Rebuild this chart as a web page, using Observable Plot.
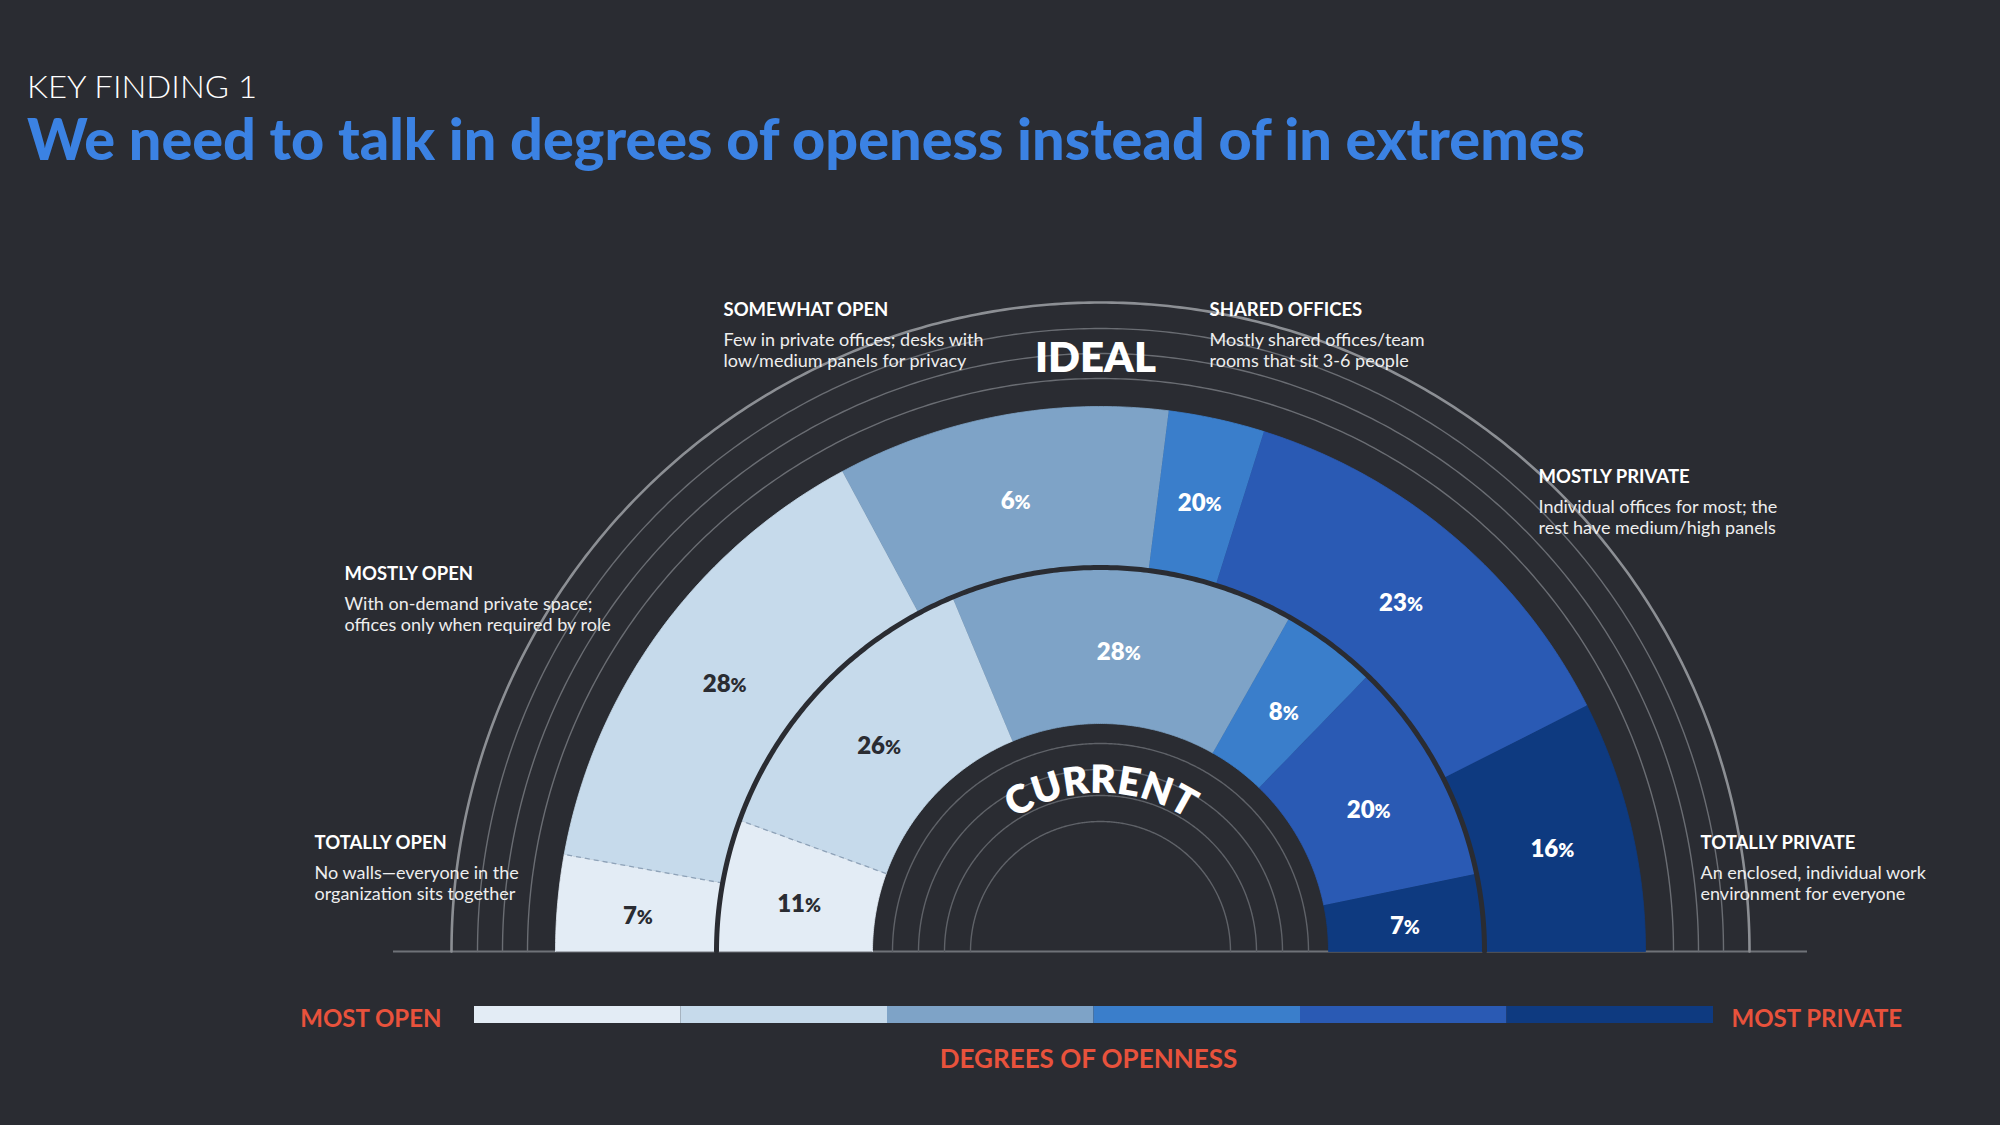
<!DOCTYPE html>
<html>
<head>
<meta charset="utf-8">
<script src="https://cdn.jsdelivr.net/npm/d3@7"></script>
<script src="https://cdn.jsdelivr.net/npm/@observablehq/plot@0.6"></script>
<style>
  html, body { margin: 0; padding: 0; background: #2a2c32; width: 2000px; height: 1125px; overflow: hidden; }
  #header { position: relative; width: 2000px; height: 180px; }
  .t { position: absolute; left: 27px; white-space: nowrap; line-height: 1; transform-origin: 0 0; font-family: Lato, "Open Sans", sans-serif; }
  #kicker { top: 70px; font-size: 32px; font-weight: 300; color: #ffffff; }
  #title { top: 110px; font-size: 57px; font-weight: 900; color: #3b82e3; }
  #chart svg { display: block; }
</style>
</head>
<body>
<div id="header">
  <div class="t" id="kicker">KEY FINDING 1</div>
  <div class="t" id="title">We need to talk in degrees of openess instead of in extremes</div>
</div>
<div id="chart"></div>
<script>
// ---------------- data ----------------
const categories = ["Totally open", "Mostly open", "Somewhat open", "Shared offices", "Mostly private", "Totally private"];
const colors = ["#e3ecf5", "#c6daeb", "#7ea3c7", "#3a7ecb", "#2a5ab4", "#0e3a80"];
// angular shares (percent of the half circle) as drawn
const idealShare = [5.7, 28.6, 19.7, 5.7, 25.4, 14.9];
const currentShare = [11.1, 26.3, 29.0, 8.1, 19.0, 6.5];
// printed labels
const idealLabels = ["7%", "28%", "6%", "20%", "23%", "16%"];
const currentLabels = ["11%", "26%", "28%", "8%", "20%", "7%"];
const headings = ["TOTALLY OPEN", "MOSTLY OPEN", "SOMEWHAT OPEN", "SHARED OFFICES", "MOSTLY PRIVATE", "TOTALLY PRIVATE"];
const descriptions = [
  ["No walls\u2014everyone in the", "organization sits together"],
  ["With on-demand private space;", "offices only when required by role"],
  ["Few in private offices; desks with", "low/medium panels for privacy"],
  ["Mostly shared offices/team", "rooms that sit 3-6 people"],
  ["Individual offices for most; the", "rest have medium/high panels"],
  ["An enclosed, individual work", "environment for everyone"]
];
const ringNames = ["IDEAL", "CURRENT"];
const legendEnds = ["MOST OPEN", "MOST PRIVATE"];
const legendTitle = "DEGREES OF OPENNESS";

// ---------------- geometry ----------------
const BG = "#2a2c32";
const W = 2000, H = 945;
const CX = 1100, BASE = 951, TOP = 180;      // page coordinates of centre / baseline
const px = (x) => x - CX;                     // page x -> data x
const py = (y) => BASE - y;                   // page y -> data y
const R = {idealOut: 545, idealIn: 384, curOut: 384, curIn: 228};
const ang = d3.scaleLinear().domain([0, 100]).range([Math.PI, 0]);

function wedges(shares, r0, r1, band) {
  const pts = [];
  let acc = 0;
  shares.forEach((v, i) => {
    const a0 = ang(acc), a1 = ang(acc + v);
    acc += v;
    const n = Math.max(2, Math.ceil(Math.abs(a1 - a0) * 180 / Math.PI) * 2);
    const key = band + i;
    for (let k = 0; k <= n; k++) { const t = a0 + (a1 - a0) * k / n; pts.push({key, cat: categories[i], x: r1 * Math.cos(t), y: r1 * Math.sin(t)}); }
    for (let k = n; k >= 0; k--) { const t = a0 + (a1 - a0) * k / n; pts.push({key, cat: categories[i], x: r0 * Math.cos(t), y: r0 * Math.sin(t)}); }
  });
  return pts;
}
function labelPts(shares, labels, r0, r1) {
  let acc = 0;
  return shares.map((v, i) => {
    const m = ang(acc + v / 2); acc += v;
    const r = (r0 + r1) / 2;
    return {i, label: labels[i], x: r * Math.cos(m), y: r * Math.sin(m)};
  });
}
function arc(r, key) {
  return d3.range(0, 361).map(k => { const t = Math.PI * k / 360; return {key, x: r * Math.cos(t), y: r * Math.sin(t)}; });
}
function boundary(shares, idx, r0, r1) {
  const a = ang(d3.sum(shares.slice(0, idx + 1)));
  return {x1: r0 * Math.cos(a), y1: r0 * Math.sin(a), x2: r1 * Math.cos(a), y2: r1 * Math.sin(a)};
}

const idealPts = wedges(idealShare, R.idealIn, R.idealOut, "ideal");
const currentPts = wedges(currentShare, R.curIn, R.curOut, "current");
const labels = [...labelPts(idealShare, idealLabels, R.idealIn, R.idealOut), ...labelPts(currentShare, currentLabels, R.curIn, R.curOut)];

const outerArcs = [573, 598, 623].flatMap((r, i) => arc(r, "o" + i));
const outerMost = arc(649, "om");
const innerArcs = [208, 182, 156, 130].flatMap((r, i) => arc(r, "i" + i));
const separator = arc(R.curOut, "sep");
const dashes = [boundary(idealShare, 0, R.idealIn, R.idealOut), boundary(currentShare, 0, R.curIn, R.curOut)];

// curved CURRENT lettering
const letterAdv = {C: 0.68, U: 0.72, R: 0.63, E: 0.56, N: 0.76, T: 0.58};
const curFont = 39, curR = 171, curTrack = 3;
const curLetters = ringNames[1].split("");
const advs = curLetters.map(c => letterAdv[c] * curFont);
const total = d3.sum(advs) + curTrack * (curLetters.length - 1);
let run = 0;
const currentText = curLetters.map((c, i) => {
  const s = run + advs[i] / 2; run += advs[i] + curTrack;
  const a = Math.PI / 2 + (total / 2 - s) / curR;
  return {c, x: curR * Math.cos(a), y: curR * Math.sin(a), rot: 90 - a * 180 / Math.PI};
});

// annotation anchors (page coords of heading left / centre line)
const annoPos = [[314, 843], [344, 574], [723, 310], [1209, 310], [1538, 477], [1700, 843]];
const annoHead = headings.map((h, i) => ({text: h, x: px(annoPos[i][0]), y: py(annoPos[i][1])}));
const annoDesc = descriptions.flatMap((d, i) => d.map((t, j) => ({text: t, x: px(annoPos[i][0]), y: py(annoPos[i][1] + 30 + j * 21)})));

// legend
const legendBand = d3.scaleBand().domain(categories).range([px(474), px(1713)]);

const font = "Lato, 'Open Sans', sans-serif";
const chart = Plot.plot({
  width: W, height: H,
  marginTop: 0, marginRight: 0, marginBottom: 0, marginLeft: 0,
  x: {domain: [px(0), px(W)], range: [0, W], axis: null},
  y: {domain: [py(TOP + H), py(TOP)], range: [H, 0], axis: null},
  color: {domain: categories, range: colors},
  style: {background: BG, fontFamily: font, overflow: "visible"},
  marks: [
    // baseline
    Plot.ruleY([0], {x1: px(393), x2: px(1807), stroke: "#6f7278", strokeWidth: 2}),
    // decorative arcs
    Plot.line(outerArcs, {x: "x", y: "y", z: "key", stroke: "#6a6d73", strokeWidth: 1.4}),
    Plot.line(outerMost, {x: "x", y: "y", z: "key", stroke: "#8c8f94", strokeWidth: 2.6}),
    Plot.line(innerArcs, {x: "x", y: "y", z: "key", stroke: "#5f6268", strokeWidth: 1.4}),
    // rings
    Plot.line(idealPts, {x: "x", y: "y", z: "key", fill: "cat", stroke: "cat", strokeWidth: 0.8}),
    Plot.line(currentPts, {x: "x", y: "y", z: "key", fill: "cat", stroke: "cat", strokeWidth: 0.8}),
    Plot.link(dashes, {x1: "x1", y1: "y1", x2: "x2", y2: "y2", stroke: "#8ea2b8", strokeWidth: 1.3, strokeDasharray: "5,4"}),
    Plot.line(separator, {x: "x", y: "y", stroke: BG, strokeWidth: 5}),
    // percentages
    Plot.text(labels.filter(d => d.i < 2), {x: "x", y: "y", dy: 6, text: "label", fill: BG, fontSize: 24, fontWeight: 800}),
    Plot.text(labels.filter(d => d.i >= 2), {x: "x", y: "y", dy: 6, text: "label", fill: "#ffffff", fontSize: 24, fontWeight: 800}),
    // ring names
    Plot.text([ringNames[0]], {x: px(1095), y: py(358), text: d => d, fill: "#ffffff", fontSize: 42, fontWeight: 800, letterSpacing: 1}),
    Plot.text(currentText, {x: "x", y: "y", text: "c", rotate: "rot", fill: "#ffffff", fontSize: curFont, fontWeight: 800}),
    // annotations
    Plot.text(annoHead, {x: "x", y: "y", text: "text", textAnchor: "start", fill: "#ffffff", fontSize: 18.5, fontWeight: 700}),
    Plot.text(annoDesc, {x: "x", y: "y", text: "text", textAnchor: "start", fill: "#eeeeee", fontSize: 18}),
    // legend
    Plot.rect(categories, {x1: d => legendBand(d), x2: d => legendBand(d) + legendBand.bandwidth(), y1: py(1006), y2: py(1023), fill: d => d}),
    Plot.text([legendEnds[0]], {x: px(441), y: py(1019), text: d => d, textAnchor: "end", fill: "#e8523c", fontSize: 24, fontWeight: 700}),
    Plot.text([legendEnds[1]], {x: px(1731), y: py(1019), text: d => d, textAnchor: "start", fill: "#e8523c", fontSize: 24, fontWeight: 700}),
    Plot.text([legendTitle], {x: px(1088), y: py(1059), text: d => d, fill: "#e8523c", fontSize: 26, fontWeight: 700})
  ]
});
document.getElementById("chart").appendChild(chart);

// smaller percent sign
chart.querySelectorAll("text").forEach(el => {
  const m = /^(\d+)%$/.exec(el.textContent);
  if (m) {
    el.textContent = m[1];
    const ts = document.createElementNS("http://www.w3.org/2000/svg", "tspan");
    ts.setAttribute("font-size", "0.8em");
    ts.textContent = "%";
    el.appendChild(ts);
  }
});

// condensed headline widths as in the reference
function fit(id, target) {
  const el = document.getElementById(id);
  const w = el.getBoundingClientRect().width;
  if (w > 0) el.style.transform = `scaleX(${target / w})`;
}
fit("kicker", 230);
fit("title", 1558);
</script>
</body>
</html>
